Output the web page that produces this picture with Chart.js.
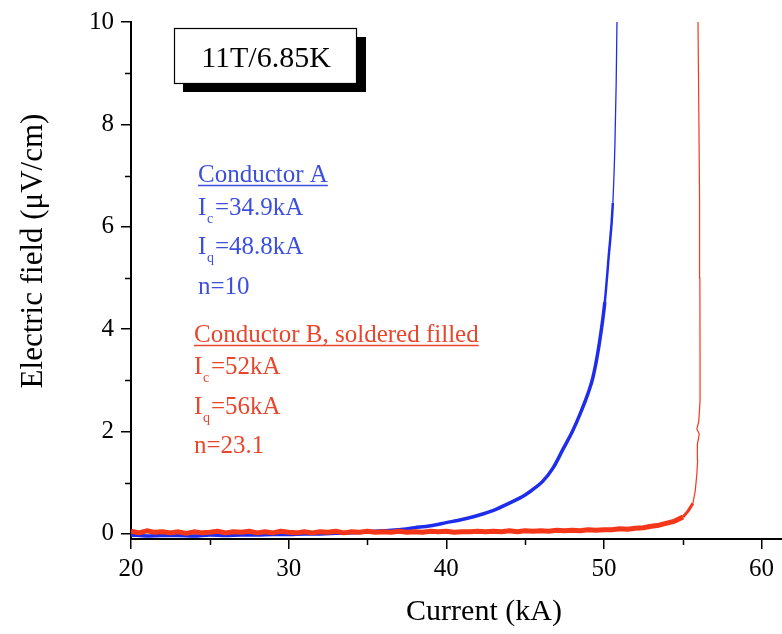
<!DOCTYPE html>
<html>
<head>
<meta charset="utf-8">
<script src="https://cdn.jsdelivr.net/npm/chart.js@4.4.0/dist/chart.umd.min.js"></script>
<style>
  html, body { margin: 0; padding: 0; background: #fff; }
  #wrap { width: 782px; height: 634px; }
</style>
</head>
<body>
<div id="wrap"><canvas id="chart" width="782" height="634"></canvas></div>
<script>
// ===== Values =====

// Conductor A (blue)
const blueX = [20, 21, 22, 23, 24, 25, 26, 27, 28, 29, 30, 31, 32, 33, 34, 35, 36, 37, 38, 39,
               40, 41, 42, 43, 44, 45, 45.5, 46.1, 46.8, 47.4, 48.0, 48.5, 49.0, 49.3, 49.7, 50.06,
               50.3, 50.57, 50.7, 50.78, 50.83];
const blueY = [-0.02, -0.04, -0.03, -0.03, -0.04, -0.02, -0.03, -0.02, -0.02, -0.01, -0.01, 0.0, 0.0, 0.01, 0.02, 0.04, 0.06, 0.08, 0.12, 0.16,
               0.22, 0.28, 0.36, 0.46, 0.6, 0.76, 0.87, 1.02, 1.3, 1.65, 2.0, 2.35, 2.75, 3.05, 3.7, 4.53,
               5.4, 6.47, 7.6, 8.8, 10.0];

// Conductor B, soldered filled (red)
const redX = [20, 20.5, 21, 21.5, 22, 22.5, 23, 23.5, 24, 24.5, 25, 25.5, 26, 26.5, 27, 27.5, 28, 28.5, 29, 29.5,
              30, 30.5, 31, 31.5, 32, 32.5, 33, 33.5, 34, 34.5, 35, 35.5, 36, 36.5, 37, 37.5, 38, 38.5, 39, 39.5,
              40, 40.5, 41, 41.5, 42, 42.5, 43, 43.5, 44, 44.5, 45, 45.5, 46, 46.5, 47, 47.5, 48, 48.5, 49, 49.5,
              50, 50.5, 51, 51.5, 52, 52.5, 53, 53.5, 54, 54.5, 55.02, 55.35, 55.65, 55.8, 55.9, 55.95, 55.93, 56.05,
              55.9, 56.02, 56.1, 56.1, 56.09, 56.07, 56.03, 55.97];
const redY = [0.05, 0.02, 0.06, 0.03, 0.04, 0.02, 0.04, 0.01, 0.04, 0.02, 0.03, 0.05, 0.02, 0.04, 0.03, 0.05, 0.02, 0.04, 0.02, 0.05,
              0.03, 0.02, 0.04, 0.02, 0.04, 0.03, 0.05, 0.02, 0.04, 0.03, 0.05, 0.03, 0.04, 0.03, 0.05, 0.03, 0.04, 0.03, 0.05, 0.04,
              0.05, 0.03, 0.04, 0.04, 0.05, 0.04, 0.05, 0.04, 0.06, 0.04, 0.06, 0.05, 0.06, 0.05, 0.07, 0.06, 0.07, 0.06, 0.08, 0.07,
              0.08, 0.08, 0.1, 0.09, 0.11, 0.12, 0.15, 0.17, 0.21, 0.25, 0.33, 0.45, 0.6, 0.85, 1.18, 1.45, 1.75, 1.95,
              2.05, 2.2, 2.6, 3.5, 5.0, 6.5, 8.0, 10.0];

// Axis ticks
const xMajor = [20, 30, 40, 50, 60];
const xMinor = [25, 35, 45, 55];
const yMajor = [0, 2, 4, 6, 8, 10];
const yMinor = [1, 3, 5, 7, 9];

const SERIF = '"Liberation Serif", "Times New Roman", serif';
const BLUE = 'rgb(30, 45, 235)';
const RED = 'rgb(245, 55, 25)';
const BLUE_TEXT = 'rgb(60, 80, 220)';
const RED_TEXT = 'rgb(232, 70, 45)';

function toPoints(xs, ys) {
    return xs.map((x, i) => ({ x: x, y: ys[i] }));
}

// draws "I" with a subscript then the rest of the line
function drawSubText(ctx, x, y, sub, rest) {
    ctx.font = '25px ' + SERIF;
    ctx.fillText('I', x, y);
    ctx.font = '14px ' + SERIF;
    ctx.fillText(sub, x + 9, y + 8);
    ctx.font = '25px ' + SERIF;
    ctx.fillText(rest, x + 17, y);
}

function drawUnderlined(ctx, text, x, y) {
    ctx.font = '25px ' + SERIF;
    ctx.fillText(text, x, y);
    const w = ctx.measureText(text).width;
    ctx.lineWidth = 1.5;
    ctx.beginPath();
    ctx.moveTo(x, y + 3.5);
    ctx.lineTo(x + w, y + 3.5);
    ctx.stroke();
}

// short minor tick marks on both axes
const minorTicks = {
    id: 'minorTicks',
    afterDraw(chart) {
        const ctx = chart.ctx;
        const xs = chart.scales.x, ys = chart.scales.y;
        ctx.save();
        ctx.strokeStyle = '#000';
        ctx.lineWidth = 1.5;
        ctx.beginPath();
        xMinor.forEach(v => {
            const px = Math.round(xs.getPixelForValue(v)) + 0.5;
            ctx.moveTo(px, ys.bottom);
            ctx.lineTo(px, ys.bottom + 6);
        });
        yMinor.forEach(v => {
            const py = Math.round(ys.getPixelForValue(v)) + 0.5;
            ctx.moveTo(xs.left, py);
            ctx.lineTo(xs.left - 6, py);
        });
        ctx.stroke();
        ctx.restore();
    }
};

const annotations = {
    id: 'annotations',
    afterDraw(chart) {
        const ctx = chart.ctx;
        ctx.save();
        // axis titles
        ctx.fillStyle = '#000';
        ctx.textAlign = 'center';
        ctx.textBaseline = 'middle';
        ctx.font = '30px ' + SERIF;
        ctx.fillText('Current (kA)', 484, 612);
        ctx.save();
        ctx.translate(34, 251);
        ctx.rotate(-Math.PI / 2);
        ctx.font = '31px ' + SERIF;
        ctx.fillText('Electric field (μV/cm)', 0, 0);
        ctx.restore();

        // condition box with drop shadow
        ctx.fillStyle = '#000';
        ctx.fillRect(183, 37, 183, 55);
        ctx.fillStyle = '#fff';
        ctx.fillRect(174, 28, 183, 56);
        ctx.strokeStyle = '#000';
        ctx.lineWidth = 1.2;
        ctx.strokeRect(174.5, 28.5, 182, 55);
        ctx.fillStyle = '#000';
        ctx.font = '30px ' + SERIF;
        ctx.textBaseline = 'alphabetic';
        ctx.fillText('11T/6.85K', 266, 67);

        ctx.textAlign = 'left';
        // Conductor A
        ctx.fillStyle = BLUE_TEXT;
        ctx.strokeStyle = BLUE_TEXT;
        drawUnderlined(ctx, 'Conductor A', 198, 182);
        drawSubText(ctx, 198, 215, 'c', '=34.9kA');
        drawSubText(ctx, 198, 254, 'q', '=48.8kA');
        ctx.fillText('n=10', 198, 294);
        // Conductor B
        ctx.fillStyle = RED_TEXT;
        ctx.strokeStyle = RED_TEXT;
        drawUnderlined(ctx, 'Conductor B, soldered filled', 194, 342);
        drawSubText(ctx, 194, 374, 'c', '=52kA');
        drawSubText(ctx, 194, 414, 'q', '=56kA');
        ctx.fillText('n=23.1', 194, 453);
        ctx.restore();
    }
};

Chart.defaults.font.family = SERIF;
Chart.defaults.color = '#000';

new Chart(document.getElementById('chart').getContext('2d'), {
    type: 'scatter',
    data: {
        datasets: [
            {
                label: 'Conductor B',
                data: toPoints(redX, redY),
                showLine: true,
                borderColor: RED,
                pointRadius: 0,
                borderWidth: 5,
                borderJoinStyle: 'round',
                segment: { borderWidth: c => (c.p0.parsed.y > 0.5 ? 1.2 : (c.p0.parsed.y > 0.3 ? 3 : 5)) }
            },
            {
                label: 'Conductor A',
                data: toPoints(blueX, blueY),
                showLine: true,
                borderColor: BLUE,
                pointRadius: 0,
                borderWidth: 4,
                cubicInterpolationMode: 'monotone',
                segment: { borderWidth: c => (c.p0.parsed.y > 6.2 ? 1.3 : (c.p0.parsed.y > 4.5 ? 2.5 : 3.5)) }
            }
        ]
    },
    options: {
        responsive: false,
        animation: false,
        layout: { padding: { top: 18, right: 0, left: 0, bottom: 0 } },
        plugins: {
            legend: { display: false },
            tooltip: { enabled: false }
        },
        scales: {
            x: {
                type: 'linear',
                min: 20,
                max: 61.3,
                afterBuildTicks: s => { s.ticks = xMajor.map(v => ({ value: v })); },
                afterFit: s => { s.height = 95; },
                border: { display: true, color: '#000', width: 2 },
                grid: { drawOnChartArea: false, drawTicks: true, tickLength: 10, color: '#000', lineWidth: 1.5 },
                ticks: { padding: 5, maxRotation: 0, autoSkip: false, font: { size: 25 } }
            },
            y: {
                type: 'linear',
                min: -0.1,
                max: 10,
                afterBuildTicks: s => { s.ticks = yMajor.map(v => ({ value: v })); },
                afterFit: s => { s.width = 131; },
                border: { display: true, color: '#000', width: 2 },
                grid: { drawOnChartArea: false, drawTicks: true, tickLength: 10, color: '#000', lineWidth: 1.5 },
                ticks: { padding: 7, autoSkip: false, font: { size: 25 } }
            }
        }
    },
    plugins: [minorTicks, annotations]
});
</script>
</body>
</html>
